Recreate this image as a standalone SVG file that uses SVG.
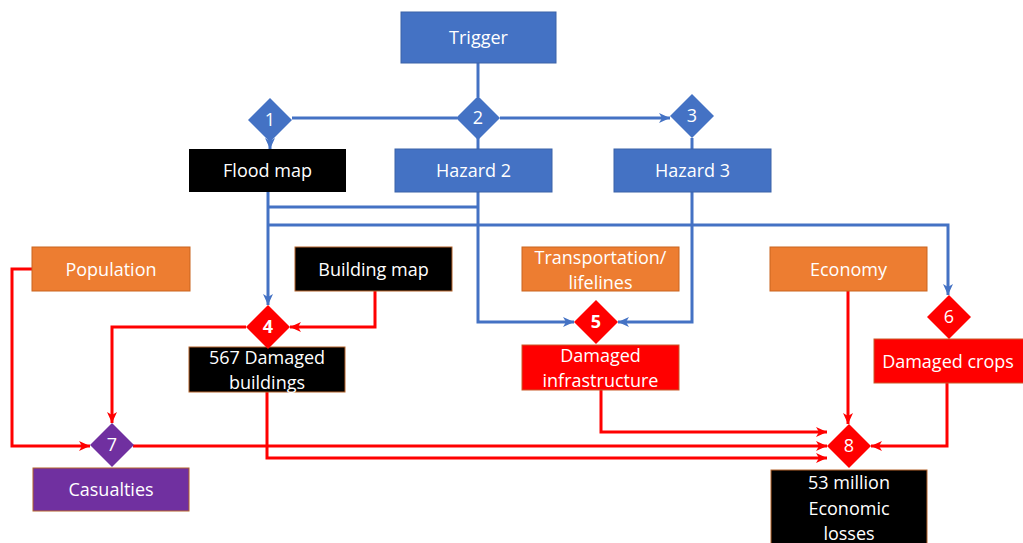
<svg xmlns="http://www.w3.org/2000/svg" width="1023" height="543" viewBox="0 0 1023 543">
  <style>
    .lbl { font-family: "Open Sans", "Liberation Sans", Arial, sans-serif; font-size: 18px; fill: #ffffff; text-anchor: middle; }
    .num { font-family: "Open Sans", "Liberation Sans", Arial, sans-serif; font-size: 18px; fill: #ffffff; text-anchor: middle; }
    .bold { font-weight: bold; }
    .blue { fill: #4472C4; stroke: #3A62A8; stroke-width: 1; }
    .orange { fill: #ED7D31; stroke: #C9651F; stroke-width: 1; }
    .black { fill: #000000; stroke: #B4632A; stroke-width: 1; }
    .red { fill: #FF0000; stroke: #C95A2A; stroke-width: 1; }
    .purple { fill: #7030A0; stroke: #B4632A; stroke-width: 1; }
    .dblue { fill: #4472C4; }
    .dred { fill: #FF0000; }
    .dpurple { fill: #7030A0; }
    .cb { fill: none; stroke: #4472C4; stroke-width: 3; }
    .cr { fill: none; stroke: #FF0000; stroke-width: 3; }
  </style>
  <defs>
    <marker id="ab" markerUnits="userSpaceOnUse" markerWidth="12" markerHeight="12" refX="11" refY="6" orient="auto">
      <path d="M0,1 L11,6 L0,11 L3,6 z" fill="#4472C4"/>
    </marker>
    <marker id="ar" markerUnits="userSpaceOnUse" markerWidth="12" markerHeight="12" refX="11" refY="6" orient="auto">
      <path d="M0,1 L11,6 L0,11 L3,6 z" fill="#FF0000"/>
    </marker>
  </defs>
  <rect width="1023" height="543" fill="#ffffff"/>

  <!-- connectors -->
  <g id="connectors">
    <path class="cb" d="M478,63 V97"/>
    <path class="cb" d="M478,138 V149"/>
    <path class="cb" d="M292,118 H457"/>
    <path class="cb" d="M500,118 H670" marker-end="url(#ab)"/>
    <path class="cb" d="M270,140 V149" marker-end="url(#ab)"/>
    <path class="cb" d="M268,192 V305" marker-end="url(#ab)"/>
    <path class="cb" d="M268,207 H478"/>
    <path class="cb" d="M268,225 H948 V295" marker-end="url(#ab)"/>
    <path class="cb" d="M478,192 V322 H574" marker-end="url(#ab)"/>
    <path class="cb" d="M692,138 V149"/>
    <path class="cb" d="M692,192 V322 H618" marker-end="url(#ab)"/>

    <path class="cr" d="M375,291 V327 H290" marker-end="url(#ar)"/>
    <path class="cr" d="M246,327 H112 V423" marker-end="url(#ar)"/>
    <path class="cr" d="M32,269 H12 V446 H90" marker-end="url(#ar)"/>
    <path class="cr" d="M133,446 H827" marker-end="url(#ar)"/>
    <path class="cr" d="M267,392 V458 H827" marker-end="url(#ar)"/>
    <path class="cr" d="M601,390 V432 H827" marker-end="url(#ar)"/>
    <path class="cr" d="M848,291 V424" marker-end="url(#ar)"/>
    <path class="cr" d="M947,383 V446 H871" marker-end="url(#ar)"/>
  </g>

  <!-- boxes -->
  <g id="trigger">
    <rect class="blue" x="401" y="12" width="155" height="51"/>
    <text class="lbl" x="478.5" y="44">Trigger</text>
  </g>
  <g id="flood-map">
    <rect x="189" y="149" width="157" height="43" fill="#000000"/>
    <text class="lbl" x="267.5" y="177">Flood map</text>
  </g>
  <g id="hazard-2">
    <rect class="blue" x="395" y="149" width="157" height="43"/>
    <text class="lbl" x="473.5" y="177">Hazard 2</text>
  </g>
  <g id="hazard-3">
    <rect class="blue" x="614" y="149" width="157" height="43"/>
    <text class="lbl" x="692.5" y="177">Hazard 3</text>
  </g>
  <g id="population">
    <rect class="orange" x="32" y="247" width="158" height="44"/>
    <text class="lbl" x="111" y="276">Population</text>
  </g>
  <g id="building-map">
    <rect class="black" x="295" y="247" width="157" height="44"/>
    <text class="lbl" x="373.5" y="276">Building map</text>
  </g>
  <g id="transportation">
    <rect class="orange" x="522" y="247" width="157" height="44"/>
    <text class="lbl" x="600.5" y="264">Transportation/</text>
    <text class="lbl" x="600.5" y="289">lifelines</text>
  </g>
  <g id="economy">
    <rect class="orange" x="770" y="247" width="157" height="44"/>
    <text class="lbl" x="848.5" y="276">Economy</text>
  </g>
  <g id="damaged-buildings">
    <rect class="black" x="189" y="347" width="156" height="45"/>
    <text class="lbl" x="267" y="364">567 Damaged</text>
    <text class="lbl" x="267" y="389">buildings</text>
  </g>
  <g id="damaged-infrastructure">
    <rect class="red" x="522" y="345" width="157" height="45"/>
    <text class="lbl" x="600.5" y="362">Damaged</text>
    <text class="lbl" x="600.5" y="387">infrastructure</text>
  </g>
  <g id="damaged-crops">
    <rect class="red" x="874" y="339" width="152" height="44"/>
    <text class="lbl" x="948" y="368">Damaged crops</text>
  </g>
  <g id="casualties">
    <rect class="purple" x="33" y="468" width="156" height="43"/>
    <text class="lbl" x="111" y="496">Casualties</text>
  </g>
  <g id="economic-losses">
    <rect class="black" x="771" y="470" width="156" height="76"/>
    <text class="lbl" x="849" y="489">53 million</text>
    <text class="lbl" x="849" y="515">Economic</text>
    <text class="lbl" x="849" y="540">losses</text>
  </g>

  <!-- decision diamonds -->
  <g id="d1">
    <path class="dblue" d="M270,98 L292,120 L270,142 L248,120 z"/>
    <text class="num" x="270" y="126">1</text>
  </g>
  <g id="d2">
    <path class="dblue" d="M478,96 L500,118 L478,140 L456,118 z"/>
    <text class="num" x="478" y="124">2</text>
  </g>
  <g id="d3">
    <path class="dblue" d="M692,94 L714,116 L692,138 L670,116 z"/>
    <text class="num" x="692" y="122">3</text>
  </g>
  <g id="d4">
    <path class="dred" d="M268,305 L290,327 L268,349 L246,327 z"/>
    <text class="num bold" x="268" y="333">4</text>
  </g>
  <g id="d5">
    <path class="dred" d="M596,300 L618,322 L596,344 L574,322 z"/>
    <text class="num bold" x="596" y="328">5</text>
  </g>
  <g id="d6">
    <path class="dred" d="M949,295 L971,317 L949,339 L927,317 z"/>
    <text class="num" x="949" y="323">6</text>
  </g>
  <g id="d7">
    <path class="dpurple" d="M112,423 L134,445 L112,467 L90,445 z"/>
    <text class="num" x="112" y="451">7</text>
  </g>
  <g id="d8">
    <path class="dred" d="M849,424 L871,446 L849,468 L827,446 z"/>
    <text class="num" x="849" y="452">8</text>
  </g>
</svg>
